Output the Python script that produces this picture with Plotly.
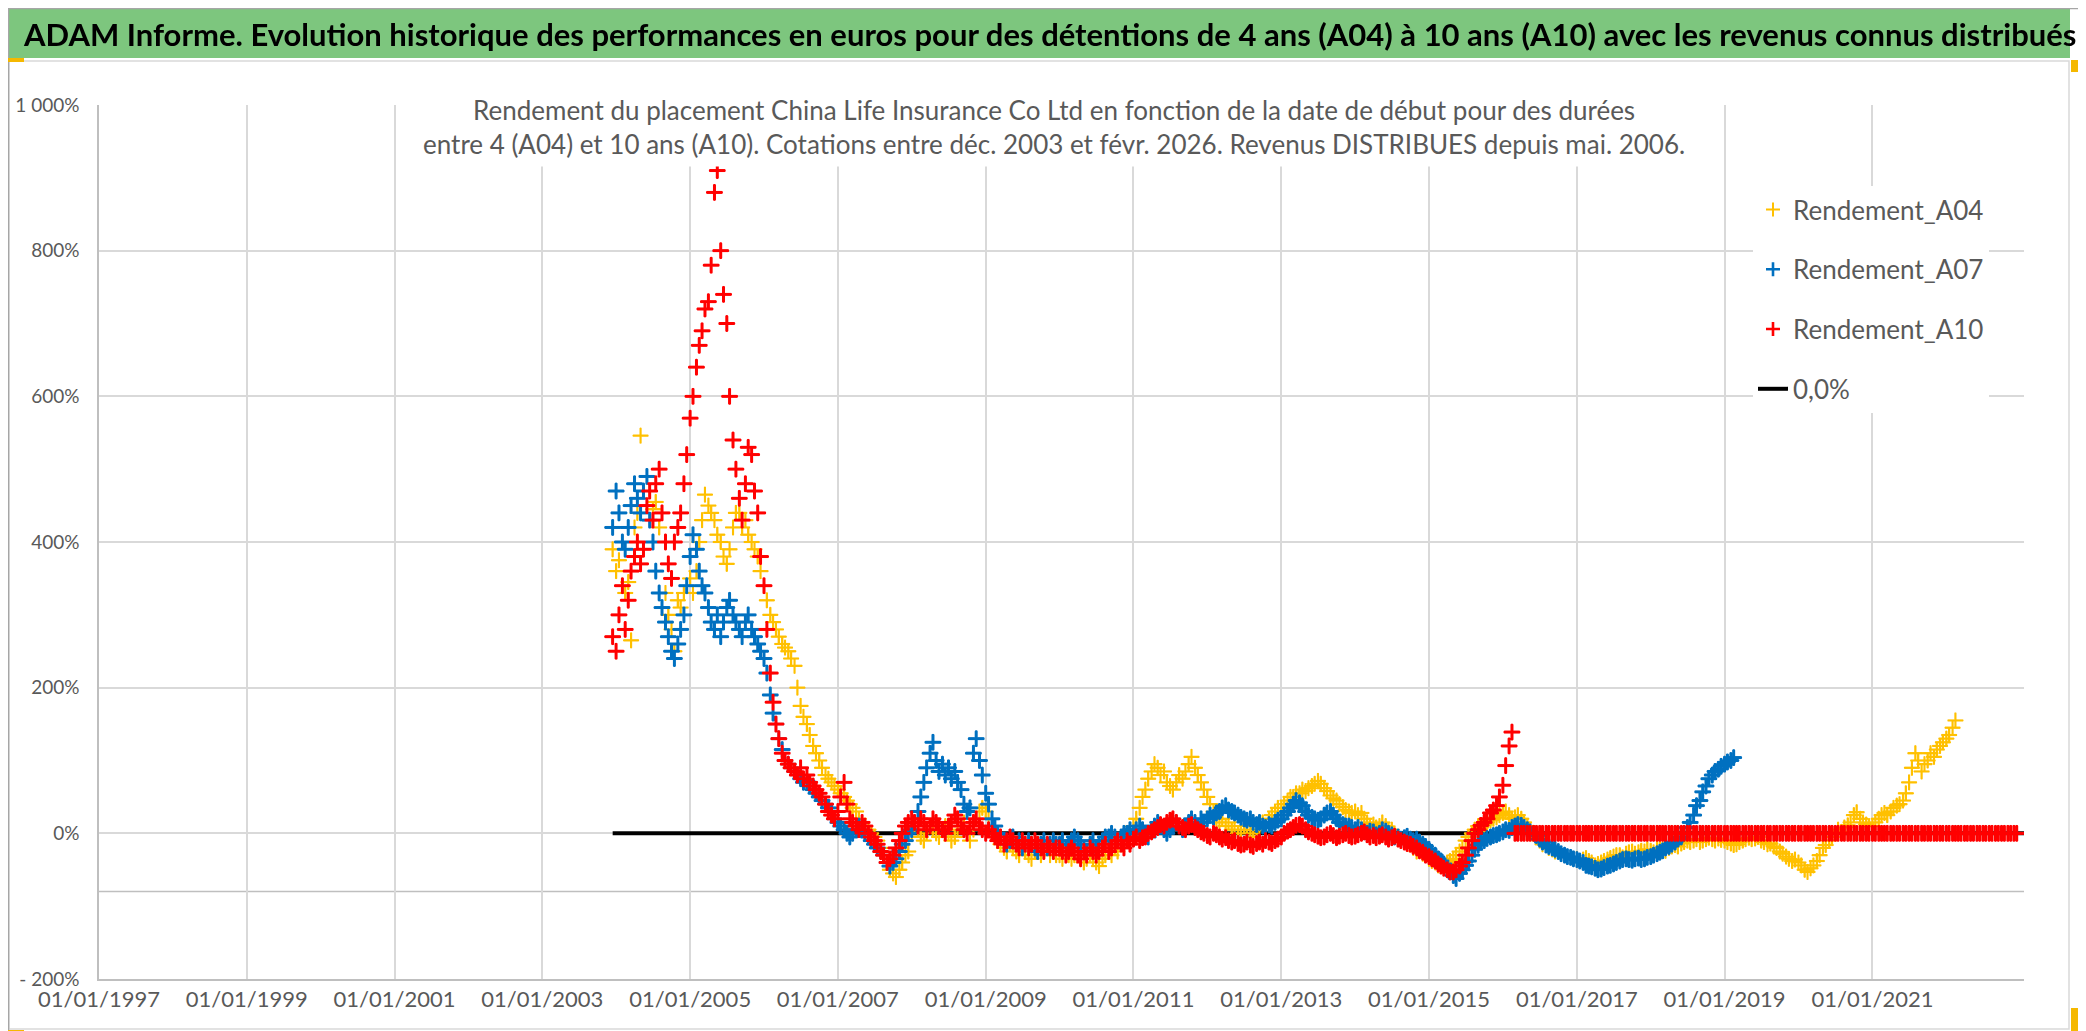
import pandas as pd
import plotly.graph_objects as go

# ---------------- data (semi-monthly readings, 1st and 15th of each month) -------------
A04_START = "2003-12-15"
A04_VALUES = (
    [390]
    + [360, 375, 340, 330, 345, 265, 420, 440, 546, 470, 450, 430, 445, 455, 420, 440, 330, 300, 280, 250, 320, 310, 330, 340]  # 2004
    + [350, 330, 360, 400, 430, 465, 450, 440, 430, 410, 400, 380, 370, 390, 420, 440, 440, 420, 430, 410, 400, 390, 380, 360]  # 2005
    + [340, 320, 300, 290, 280, 270, 260, 255, 250, 240, 230, 200, 175, 160, 150, 135, 120, 110, 100, 90, 80, 75, 70, 65]  # 2006
    + [60, 55, 50, 45, 40, 35, 30, 20, 15, 10, 5, 0, -5, -10, -20, -30, -40, -50, -55, -60, -50, -40, -30, -25]  # 2007
    + [0, 10, 5, -5, -10, 0, 10, 5, 0, -5, 5, 10, 0, -10, -5, 5, 10, 15, 0, -10, 5, 20, 30, 35]  # 2008
    + [30, 20, 10, 0, -10, -15, -20, -25, -15, -20, -25, -30, -20, -25, -30, -35, -25, -20, -30, -25, -20, -30, -25, -30]  # 2009
    + [-30, -35, -25, -30, -35, -30, -25, -30, -40, -35, -30, -35, -40, -45, -35, -30, -25, -30, -20, -25, -15, -20, -10, 0]  # 2010
    + [10, 20, 35, 50, 60, 75, 85, 95, 90, 80, 85, 70, 65, 60, 70, 80, 75, 85, 95, 105, 90, 80, 70, 60]  # 2011
    + [50, 40, 30, 20, 15, 20, 10, 15, 5, 10, 0, 5, 10, 5, 0, -5, 5, 10, 15, 10, 20, 25, 30, 35]  # 2012
    + [35, 40, 45, 50, 50, 55, 55, 60, 58, 62, 65, 68, 72, 68, 62, 58, 52, 48, 45, 40, 36, 32, 30, 28]  # 2013
    + [30, 25, 28, 20, 15, 10, 12, 8, 10, 15, 10, 5, 5, 0, -5, -8, -10, -5, -15, -20, -25, -22, -28, -30]  # 2014
    + [-35, -38, -40, -44, -45, -42, -40, -38, -35, -30, -25, -20, -10, -5, 0, 5, 10, 8, 12, 15, 18, 20, 22, 25]  # 2015
    + [28, 30, 25, 20, 22, 25, 20, 15, 10, 5, 0, -5, -10, -15, -16, -20, -22, -25, -25, -28, -30, -32, -33, -35]  # 2016
    + [-35, -38, -36, -34, -38, -40, -44, -42, -40, -38, -36, -34, -32, -30, -30, -33, -28, -26, -25, -28, -26, -24, -25, -22]  # 2017
    + [-24, -26, -22, -20, -22, -24, -20, -18, -16, -18, -14, -12, -10, -12, -10, -8, -12, -10, -8, -6, -8, -10, -7, -9]  # 2018
    + [-10, -12, -14, -16, -15, -12, -10, -8, -6, -8, -7, -5, -10, -12, -15, -14, -18, -20, -25, -28, -32, -35, -38, -36]  # 2019
    + [-40, -44, -50, -53, -48, -44, -38, -30, -20, -16, -10, -5, 0, 5, 2, 8, 11, 15, 25, 29, 20, 15, 12, 10]  # 2020
    + [10, 15, 20, 25, 28, 25, 30, 35, 38, 40, 45, 55, 70, 90, 110, 100, 85, 95, 100, 110, 105, 115, 120, 125]  # 2021
    + [130, 135, 145, 155]  # 2022
)

A07_START = "2003-12-15"
A07_VALUES = (
    [420]
    + [470, 440, 400, 390, 420, 450, 480, 460, 440, 470, 490, 430, 400, 360, 330, 310, 290, 270, 250, 240, 260, 280, 300, 340]  # 2004
    + [380, 410, 390, 360, 340, 330, 310, 290, 280, 300, 270, 290, 310, 320, 300, 290, 280, 270, 290, 300, 280, 270, 260, 250]  # 2005
    + [240, 220, 190, 165, 150, 130, 115, 100, 95, 90, 85, 80, 75, 70, 72, 65, 60, 55, 50, 45, 40, 35, 30, 20]  # 2006
    + [15, 10, 5, 0, -5, 0, 5, 10, 5, 0, -5, -10, -15, -20, -25, -30, -40, -45, -40, -35, -25, -15, -10, 0]  # 2007
    + [5, 15, 30, 50, 70, 90, 110, 125, 100, 85, 95, 80, 90, 75, 85, 70, 60, 40, 30, 35, 110, 130, 100, 80]  # 2008
    + [55, 40, 20, 10, 0, -5, -10, -15, -10, -5, -15, -10, -20, -15, -10, -15, -20, -25, -15, -10, -20, -15, -10, -15]  # 2009
    + [-15, -10, -20, -15, -10, -5, -10, -15, -20, -25, -15, -10, -20, -15, -10, -5, -5, 0, -5, -10, -5, 0, 0, 5]  # 2010
    + [0, 5, 10, 5, 0, -5, 5, 10, 15, 10, 5, 0, 5, 10, 15, 10, 5, 10, 15, 20, 15, 10, 20, 15]  # 2011
    + [20, 25, 22, 28, 30, 35, 38, 32, 30, 28, 25, 22, 20, 18, 20, 15, 12, 15, 10, 8, 12, 10, 15, 18]  # 2012
    + [20, 25, 30, 35, 40, 45, 42, 38, 30, 25, 22, 20, 18, 20, 25, 28, 30, 25, 20, 15, 12, 10, 10, 8]  # 2013
    + [5, 8, 5, 2, 0, 3, 2, -2, 0, 5, 3, 0, -2, -5, -5, -8, -6, -4, -8, -10, -8, -12, -15, -18]  # 2014
    + [-22, -26, -30, -35, -38, -42, -48, -53, -58, -62, -55, -50, -44, -38, -30, -22, -16, -12, -10, -7, -5, -3, -2, 0]  # 2015
    + [2, 5, 4, 8, 10, 12, 11, 8, 5, 2, 0, -3, -8, -12, -16, -18, -20, -22, -25, -28, -30, -32, -33, -35]  # 2016
    + [-36, -38, -40, -44, -45, -46, -48, -50, -49, -47, -45, -44, -42, -40, -38, -36, -35, -36, -37, -35, -34, -36, -35, -33]  # 2017
    + [-32, -30, -28, -26, -24, -20, -18, -15, -12, -8, -5, 0, 8, 15, 25, 38, 45, 57, 65, 75, 80, 85, 88, 92]  # 2018
    + [95, 98, 100, 104]  # 2019
)

A10_START = "2003-12-15"
A10_VALUES = (
    [270]
    + [250, 300, 340, 280, 320, 360, 380, 400, 370, 390, 450, 470, 430, 480, 500, 440, 400, 370, 350, 400, 420, 440, 480, 520]  # 2004
    + [570, 600, 640, 670, 690, 720, 730, 780, 880, 910, 800, 740, 700, 600, 540, 500, 460, 430, 480, 530, 520, 470, 440, 380]  # 2005
    + [340, 280, 220, 180, 150, 130, 110, 100, 95, 90, 85, 80, 90, 75, 80, 70, 65, 60, 55, 50, 40, 30, 25, 20]  # 2006
    + [30, 50, 70, 40, 20, 15, 10, 5, 15, 10, 0, -5, -10, -15, -25, -30, -40, -35, -30, -20, -10, 0, 10, 15]  # 2007
    + [20, 15, 10, 20, 15, 5, 10, 20, 15, 10, 5, 0, 10, 15, 25, 20, 10, 5, 0, 10, 15, 20, 10, 5]  # 2008
    + [0, 5, 0, -5, -10, -5, -15, -10, -5, -10, -15, -20, -10, -15, -20, -15, -10, -15, -20, -25, -15, -20, -25, -20]  # 2009
    + [-20, -25, -30, -25, -20, -25, -30, -35, -25, -30, -20, -25, -30, -25, -20, -15, -25, -20, -15, -10, -15, -20, -10, -15]  # 2010
    + [-8, -5, -10, -6, -5, 0, 2, 5, 8, 12, 10, 15, 18, 20, 15, 10, 8, 5, 10, 12, 8, 5, 2, 0]  # 2011
    + [-3, -5, 0, -2, -5, -8, -6, -10, -12, -10, -14, -16, -15, -12, -16, -18, -14, -12, -15, -10, -12, -14, -10, -8]  # 2012
    + [-5, 0, 3, 5, 8, 11, 12, 10, 5, 2, 0, -2, -4, -6, -5, -2, 0, -3, -6, -4, -2, 0, -3, -5]  # 2013
    + [-4, -2, 0, 2, -2, -5, -3, -6, -4, -2, -5, -8, -6, -4, -8, -10, -12, -14, -15, -18, -20, -24, -26, -30]  # 2014
    + [-32, -35, -38, -42, -45, -48, -50, -53, -53, -50, -45, -40, -30, -20, -10, 0, 5, 11, 15, 20, 28, 32, 38, 50]  # 2015
    + [66, 93, 120, 139]  # 2016 Jan-Feb
    + [0, 0, 0, 0, 0, 0, 0, 0, 0, 0, 0, 0, 0, 0, 0, 0, 0, 0, 0, 0]  # 2016 Mar-Dec
    + [0, 0, 0, 0, 0, 0, 0, 0, 0, 0, 0, 0, 0, 0, 0, 0, 0, 0, 0, 0, 0, 0, 0, 0]  # 2017
    + [0, 0, 0, 0, 0, 0, 0, 0, 0, 0, 0, 0, 0, 0, 0, 0, 0, 0, 0, 0, 0, 0, 0, 0]  # 2018
    + [0, 0, 0, 0, 0, 0, 0, 0, 0, 0, 0, 0, 0, 0, 0, 0, 0, 0, 0, 0, 0, 0, 0, 0]  # 2019
    + [0, 0, 0, 0, 0, 0, 0, 0, 0, 0, 0, 0, 0, 0, 0, 0, 0, 0, 0, 0, 0, 0, 0, 0]  # 2020
    + [0, 0, 0, 0, 0, 0, 0, 0, 0, 0, 0, 0, 0, 0, 0, 0, 0, 0, 0, 0, 0, 0, 0, 0]  # 2021
    + [0, 0, 0, 0, 0, 0, 0, 0, 0, 0, 0, 0, 0, 0, 0, 0, 0, 0, 0, 0, 0, 0, 0, 0]  # 2022
)

ZERO_DATES = ["2003-12-15", "2023-01-20"]
ZERO_VALUES = [0, 0]

SERIES_NAMES = ["Rendement_A04", "Rendement_A07", "Rendement_A10", "0,0%"]

X_TICK_DATES = ["1997-01-01", "1999-01-01", "2001-01-01", "2003-01-01", "2005-01-01",
                "2007-01-01", "2009-01-01", "2011-01-01", "2013-01-01", "2015-01-01",
                "2017-01-01", "2019-01-01", "2021-01-01"]
X_TICK_LABELS = ["01/01/1997", "01/01/1999", "01/01/2001", "01/01/2003", "01/01/2005",
                 "01/01/2007", "01/01/2009", "01/01/2011", "01/01/2013", "01/01/2015",
                 "01/01/2017", "01/01/2019", "01/01/2021"]
Y_TICK_VALUES = [-200, 0, 200, 400, 600, 800, 1000]
Y_TICK_LABELS = ["- 200%", "0%", "200%", "400%", "600%", "800%", "1 000%"]

TITLE = ("ADAM Informe. Evolution historique des performances en euros pour des détentions "
         "de 4 ans (A04) à 10 ans (A10) avec les revenus connus distribués")
SUBTITLE = ("Rendement du placement China Life Insurance Co Ltd en fonction de la date de début pour des durées<br>"
            "entre 4 (A04) et 10 ans (A10). Cotations entre déc. 2003 et févr. 2026. Revenus DISTRIBUES depuis mai. 2006.")

# ---------------- layout constants -------------
W, H = 2086, 1031
L, R, T, B = 91, 70, 97, 60
PW, PH = W - L - R, H - T - B
FONT = "Lato, Roboto, sans-serif"
GREY_TXT = "#595959"


def px_x(px):
    return (px - L) / PW


def px_y(py):
    return (H - B - py) / PH


def sm_dates(start, n):
    return pd.date_range(start, periods=n, freq="SMS")


fig = go.Figure()

# zero line drawn first (beneath the points), listed last in the legend
fig.add_trace(go.Scatter(
    x=ZERO_DATES, y=ZERO_VALUES, mode="lines", name=SERIES_NAMES[3],
    line=dict(color="black", width=4), legendgroup="z", legendrank=4,
    hoverinfo="skip"))

for name, start, vals, color, lw, rank in [
    (SERIES_NAMES[0], A04_START, A04_VALUES, "#FFC000", 2.0, 1),
    (SERIES_NAMES[1], A07_START, A07_VALUES, "#0070C0", 2.6, 2),
    (SERIES_NAMES[2], A10_START, A10_VALUES, "#FF0000", 2.6, 3),
]:
    fig.add_trace(go.Scattergl(
        x=sm_dates(start, len(vals)), y=vals, mode="markers", name=name,
        marker=dict(symbol="cross-thin", size=10, color=color,
                    line=dict(color=color, width=lw)),
        legendgroup=name, legendrank=rank))

shapes = [
    # outer chart frame
    dict(type="rect", xref="paper", yref="paper", x0=px_x(1), x1=px_x(2061),
         y0=px_y(53), y1=px_y(1021), line=dict(color="#D9D9D9", width=1.5),
         fillcolor="rgba(0,0,0,0)", layer="below"),
    # green title banner
    dict(type="rect", xref="paper", yref="paper", x0=px_x(0), x1=px_x(2062),
         y0=px_y(0), y1=px_y(50), line=dict(width=0), fillcolor="#7DC67E", layer="below"),
    # image border
    dict(type="rect", xref="paper", yref="paper", x0=px_x(0.5), x1=px_x(2085.5),
         y0=px_y(0.5), y1=px_y(1030.5), line=dict(color="#A6A6A6", width=1.5),
         fillcolor="rgba(0,0,0,0)", layer="above"),
    # secondary horizontal axis line
    dict(type="line", xref="paper", yref="y", x0=0, x1=1, y0=-80, y1=-80,
         line=dict(color="#BFBFBF", width=1.5), layer="below"),
    # small orange selection handles
    dict(type="rect", xref="paper", yref="paper", x0=px_x(0), x1=px_x(16),
         y0=px_y(50), y1=px_y(54), line=dict(width=0), fillcolor="#F5B800"),
    dict(type="rect", xref="paper", yref="paper", x0=px_x(2063), x1=px_x(2071),
         y0=px_y(52), y1=px_y(64), line=dict(width=0), fillcolor="#F5B800"),
    dict(type="rect", xref="paper", yref="paper", x0=px_x(2063), x1=px_x(2071),
         y0=px_y(1000), y1=px_y(1030), line=dict(width=0), fillcolor="#F5B800"),
    dict(type="rect", xref="paper", yref="paper", x0=px_x(0), x1=px_x(16),
         y0=px_y(1022), y1=px_y(1028), line=dict(width=0), fillcolor="#F5B800"),
]

annotations = [
    dict(text=TITLE, xref="paper", yref="paper", x=px_x(1041), y=px_y(26),
         xanchor="center", yanchor="middle", showarrow=False,
         font=dict(family=FONT, size=31, color="black", weight="bold")),
    dict(text=SUBTITLE, xref="paper", yref="paper", x=px_x(1046), y=px_y(119),
         xanchor="center", yanchor="middle", showarrow=False, align="center",
         bgcolor="white", borderpad=6,
         font=dict(family=FONT, size=26, color=GREY_TXT)),
]

fig.update_layout(
    width=W, height=H, autosize=False,
    margin=dict(l=L, r=R, t=T, b=B, autoexpand=False),
    paper_bgcolor="white", plot_bgcolor="white",
    font=dict(family=FONT, color=GREY_TXT),
    showlegend=True,
    legend=dict(x=px_x(1745), y=px_y(178), xanchor="left", yanchor="top",
                bgcolor="white", borderwidth=0, traceorder="grouped",
                tracegroupgap=23, font=dict(family=FONT, size=26, color=GREY_TXT),
                itemsizing="trace"),
    shapes=shapes, annotations=annotations,
    xaxis=dict(type="date", range=["1997-01-01", "2023-01-20"],
               tickvals=X_TICK_DATES, ticktext=X_TICK_LABELS, automargin=False,
               showgrid=True, gridcolor="#D9D9D9", gridwidth=1.5,
               showline=True, linecolor="#BFBFBF", linewidth=1.5,
               ticks="", ticklabelstandoff=0,
               tickfont=dict(family=FONT, size=22, color=GREY_TXT), zeroline=False),
    yaxis=dict(range=[-200, 1000], tickvals=Y_TICK_VALUES, ticktext=Y_TICK_LABELS,
               automargin=False,
               showgrid=True, gridcolor="#D9D9D9", gridwidth=1.5,
               showline=True, linecolor="#BFBFBF", linewidth=1.5,
               ticks="", ticklabelstandoff=14,
               tickfont=dict(family=FONT, size=19, color=GREY_TXT), zeroline=False),
)

fig.write_html("out.html")
